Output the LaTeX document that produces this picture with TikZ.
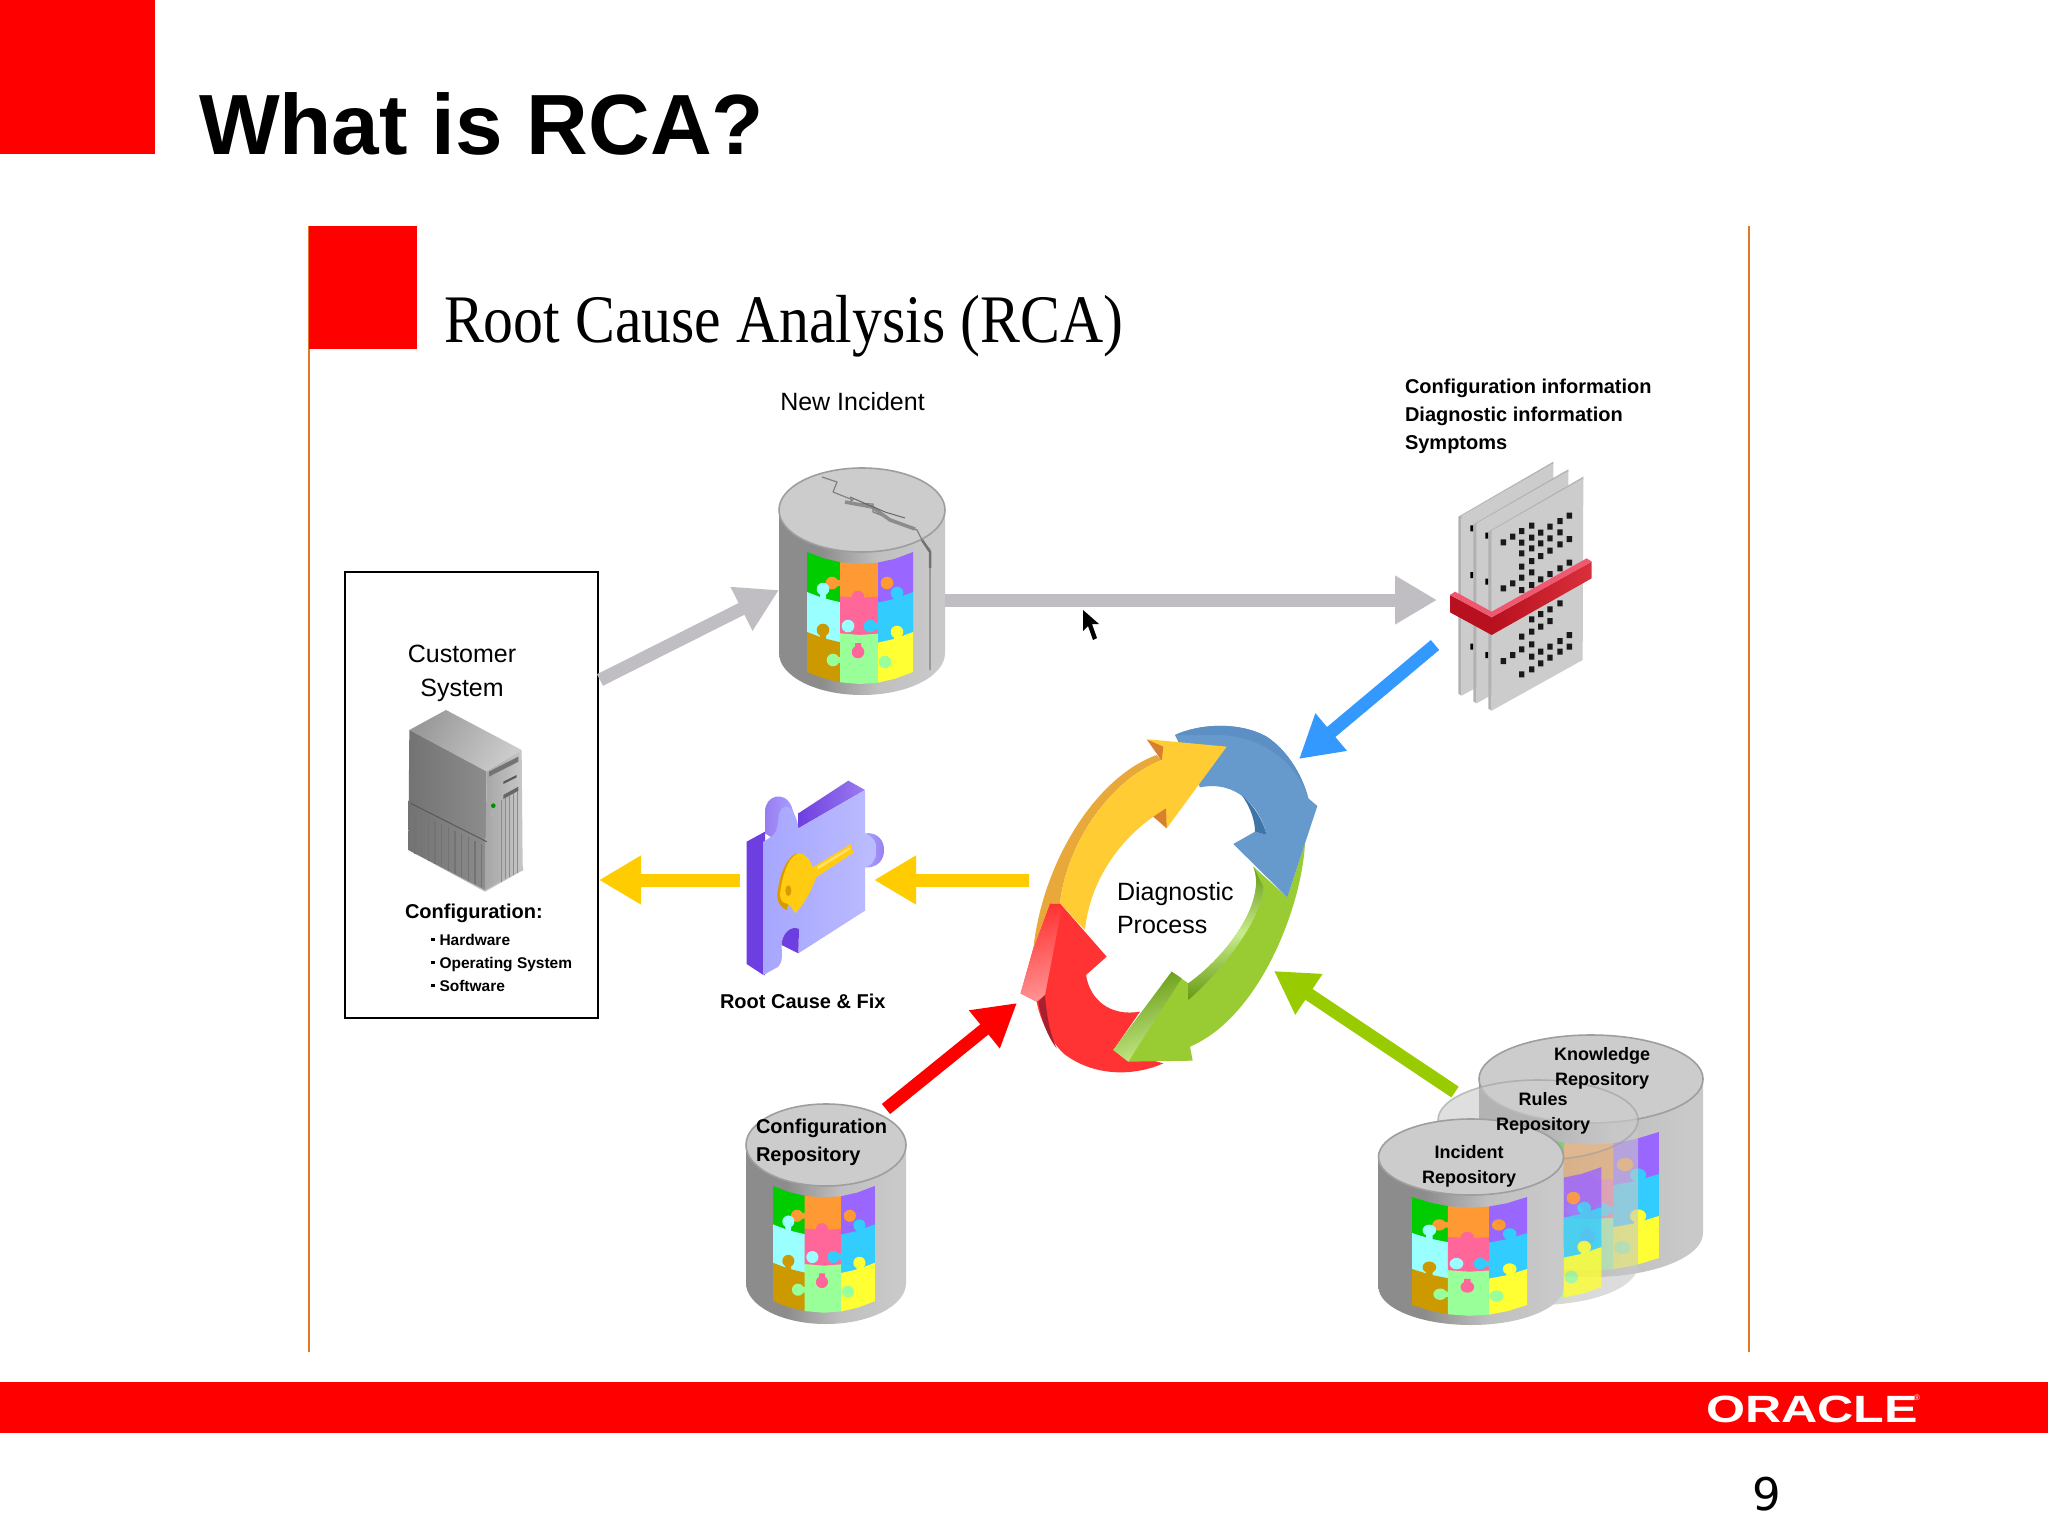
\documentclass[tikz,border=0pt]{standalone}
\usepackage{fontspec}
\usepackage{graphicx}
\setmainfont{Liberation Sans}
\newfontfamily\serifttl{Liberation Serif}
\newfontfamily\pagefont{DejaVu Sans}
\usetikzlibrary{arrows.meta}
\definecolor{oraclered}{HTML}{FF0000}
\definecolor{rule}{HTML}{E07828}
\definecolor{arrgray}{HTML}{C0BEC2}
\definecolor{arrblue}{HTML}{3399FF}
\definecolor{arryel}{HTML}{FFCC00}
\definecolor{arrgreen}{HTML}{99CC00}
\definecolor{pzgreen}{HTML}{00CC00}
\definecolor{pzcyan}{HTML}{99FFFF}
\definecolor{pzgold}{HTML}{CC9900}
\definecolor{pzorange}{HTML}{FF9933}
\definecolor{pzpink}{HTML}{FF6699}
\definecolor{pzlgreen}{HTML}{99FF99}
\definecolor{pzpurple}{HTML}{9966FF}
\definecolor{pzblue}{HTML}{33CCFF}
\definecolor{pzyellow}{HTML}{FFFF33}
\definecolor{ringblue}{HTML}{6699CC}
\definecolor{ringbluedk}{HTML}{3F74A8}
\definecolor{ringblueup}{HTML}{5C8FC4}
\definecolor{ringgreen}{HTML}{99CC33}
\definecolor{ringgreenlt}{HTML}{C8EC8C}
\definecolor{ringgreendk}{HTML}{669911}
\definecolor{ringyel}{HTML}{FFCC33}
\definecolor{ringyeldk}{HTML}{E8A83A}
\definecolor{ringbarb}{HTML}{D98030}
\definecolor{ringred}{HTML}{FF3333}
\definecolor{ringredlt}{HTML}{FF9090}
\definecolor{ringreddk}{HTML}{A82030}
\definecolor{pieceside}{HTML}{6E3FE0}
\definecolor{pieceside2}{HTML}{9A7CF0}
\definecolor{piecefront}{HTML}{A6A6FF}
\definecolor{piecefront2}{HTML}{BCBCFF}
\definecolor{keyyel}{HTML}{FFCC11}
\definecolor{keydk}{HTML}{D99A00}
\definecolor{bandleft}{HTML}{B8101E}
\definecolor{bandright}{HTML}{D8303C}
\definecolor{bandtop}{HTML}{F05870}
\pgfdeclarehorizontalshading{cylbody}{100bp}{color(0bp)=(black!45);color(25bp)=(black!45);color(42bp)=(black!25);color(60bp)=(black!21);color(75bp)=(black!21)}
\newcommand{\fs}[2]{\fontsize{#1}{#2}\selectfont}
\newcommand{\cylfull}[6]{% cx, top cy, rx, ry, bottom cy, opacity
  \path[shading=cylbody,shade,opacity=#6]
    (#1-#3,#2) -- (#1-#3,#5)
    .. controls (#1-#3,#5+.552*#4) and (#1-.552*#3,#5+#4) .. (#1,#5+#4)
    .. controls (#1+.552*#3,#5+#4) and (#1+#3,#5+.552*#4) .. (#1+#3,#5)
    -- (#1+#3,#2)
    .. controls (#1+#3,#2+.552*#4) and (#1+.552*#3,#2+#4) .. (#1,#2+#4)
    .. controls (#1-.552*#3,#2+#4) and (#1-#3,#2+.552*#4) .. (#1-#3,#2) -- cycle;
  \path[fill=black!20,draw=black!38,line width=1.6pt,opacity=#6] (#1,#2) ellipse [x radius=#3,y radius=#4];
}
\newcommand{\pzA}[3]{\fill[#1] (0,#2) -- (16,#2+6.1) -- (33.5,#2+10.3) -- (33.5,#3+10.3) -- (16,#3+6.1) -- (0,#3) -- cycle;}
\newcommand{\pzB}[3]{\fill[#1] (33,#2+10.3) -- (53,#2+12) -- (71.5,#2+10.6) -- (71.5,#3+10.6) -- (53,#3+12) -- (33,#3+10.3) -- cycle;}
\newcommand{\pzC}[3]{\fill[#1] (71,#2+10.6) -- (88,#2+6.8) -- (106,#2) -- (106,#3) -- (88,#3+6.8) -- (71,#3+10.6) -- cycle;}
\newcommand{\pzk}[5]{\fill[#1] (#2,#3) circle [radius=6.3]; \fill[#1] (#2-3,#3-3) rectangle (#2+#4+3,#3+#5+3);}
\newcommand{\puzzle}[5]{%
  \begin{scope}[shift={(#1,#2)},xscale=#3,yscale=#4,transparency group,opacity=#5]
    \pzA{pzgreen}{0}{41}\pzA{pzcyan}{40}{81}\pzA{pzgold}{80}{120}
    \pzB{pzorange}{0}{35}\pzB{pzpink}{34}{72}\pzB{pzlgreen}{71}{120}
    \pzC{pzpurple}{0}{41}\pzC{pzblue}{40}{81}\pzC{pzyellow}{80}{120}
    \pzk{pzorange}{25}{31}{8}{0}
    \pzk{pzorange}{80}{31}{-8}{0}
    \pzk{pzcyan}{16}{37}{0}{8}
    \pzk{pzpink}{51}{45}{0}{-8}
    \pzk{pzblue}{90}{41}{0}{8}
    \pzk{pzcyan}{41}{74}{-8}{0}
    \pzk{pzblue}{63}{74}{8}{0}
    \pzk{pzgold}{16}{78}{0}{8}
    \pzk{pzyellow}{90}{80}{0}{8}
    \pzk{pzpink}{51}{100}{0}{-12}
    \pzk{pzlgreen}{26}{108}{8}{0}
    \pzk{pzlgreen}{78}{110}{-8}{0}
  \end{scope}}
\tikzset{
  holder/.style={inner sep=0pt,outer sep=0pt},
  flow/.style={line width=13pt,-{Triangle[length=42pt,width=46pt]}},
  lab/.style={inner sep=0pt,outer sep=0pt,anchor=base,text=black,align=center},
  labl/.style={inner sep=0pt,outer sep=0pt,anchor=base west,text=black,align=left},
}
\begin{document}
\begin{tikzpicture}[x=1pt,y=-1pt]
\useasboundingbox (0,0) rectangle (2048,1536);
\fill[white] (0,0) rectangle (2048,1536);
% slide frame
\fill[oraclered] (0,0) rectangle (155,154);
\node[labl,font=\fs{85.5}{86}\bfseries] (title) at (199,154) {What is RCA?};
\fill[oraclered] (0,1382) rectangle (2048,1433);
\node[labl,text=white,font=\fs{38}{38}\bfseries] (oracle) at (1706,1422) {\scalebox{1.32}[1]{ORACLE}};
\node[inner sep=0pt,text=white,font=\fs{8}{8}] (regmark) at (1917,1398) {®};
\node[lab,font=\pagefont\fs{45}{45}] (pagenum) at (1767,1510) {9};
% inner slide
\draw[rule,line width=2.4pt] (309,226) -- (309,1352);
\draw[rule,line width=2.4pt] (1749,226) -- (1749,1352);
\fill[oraclered] (309,226) rectangle (417,349);
\node[labl,font=\serifttl\fs{68}{68}] (subtitle) at (444,342) {\scalebox{.879}[1]{Root Cause Analysis (RCA)}};
% holders
\node[holder,draw=black,line width=1.8pt,minimum width=253pt,minimum height=446pt] (cust) at (471.5,795) {};
\node[holder,minimum width=166pt,minimum height=227pt] (newinc) at (862,581.5) {};
\node[holder,minimum width=142pt,minimum height=248pt] (docs) at (1521,586) {};
\node[holder,minimum width=296pt,minimum height=349pt] (ring) at (1169,899.5) {};
\node[holder,minimum width=138pt,minimum height=195pt] (fixpiece) at (816,877) {};
\node[holder,minimum width=160pt,minimum height=220pt] (cfgrepo) at (826,1214) {};
\node[holder,minimum width=185pt,minimum height=205pt] (increpo) at (1470.5,1222.5) {};
% new incident cylinder
\cylfull{862}{510}{83}{42}{653}{1}
\puzzle{807}{552}{1}{1}{1}
\draw[black!50,line width=1.2pt,line join=round] (822,477) -- (837,482) -- (833,492) -- (853,500) -- (847,503) -- (873,504) -- (873,512) -- (893,520) -- (917,530) -- (922,540) -- (930,550) -- (930,670);
\draw[black!45,line width=3.5pt] (845,502) -- (872,507) -- (890,520) -- (915,529);
\draw[black!60,line width=1pt] (850,497) -- (885,512) -- (905,518);
\draw[black!55,line width=2.5pt] (922,540) -- (930,552) -- (930,568);
% server
\begin{scope}[shift={(340,560)},scale=1/3]
  \fill[black!25] (205,870) -- (435,995) -- (550,930) -- (548,915) -- (435,985) -- cycle;
  \shade[left color=black!40,right color=black!20,shading angle=60] (208,510) -- (318,450) -- (545,570) -- (440,635) -- cycle;
  \shade[left color=black!55,right color=black!45] (208,510) -- (440,635) -- (435,990) -- (205,870) -- cycle;
  \shade[left color=black!35,right color=black!22] (440,635) -- (545,570) -- (548,925) -- (435,990) -- cycle;
  \draw[black!65,line width=1pt] (212,730) -- (440,845);
  \foreach \vx in {225,245,...,425} {\draw[black!55,line width=1.2pt] (\vx,{745+(\vx-212)*.5}) -- (\vx,{875+(\vx-212)*.5});}
  \foreach \vx in {485,497,...,540} {\draw[black!45,line width=1pt] (\vx,{720-(\vx-485)*.55}) -- (\vx,{965-(\vx-485)*.55});}
  \fill[black!55] (447,635) -- (535,590) -- (535,605) -- (447,650) -- cycle;
  \fill[black!65] (490,665) -- (530,645) -- (530,652) -- (490,672) -- cycle;
  \fill[black!60] (490,705) -- (535,680) -- (535,692) -- (490,717) -- cycle;
  \fill[pzgreen!70!black] (460,737) circle [radius=7];
  \fill[black!30] (458,763) circle [radius=6];
\end{scope}
% document stack
\begin{scope}[shift={(1380,360)},scale=1/3]
  \foreach \dx/\dy in {-90/-45,-45/-22,0/0} {
    \begin{scope}[shift={(\dx,\dy)}]
      \fill[black!30] (325,515) -- (610,350) -- (610,358) -- (335,520) -- (335,1052) -- (325,1046) -- cycle;
      \fill[black!20] (335,512) -- (610,355) -- (608,900) -- (335,1052) -- cycle;
    \end{scope}}
  \fill[black] foreach \px/\py in {275/505,275/645,275/860,320/527,320/665,320/885} {(\px-4,\py-9) rectangle (\px+4,\py+9)};
  \fill[black!90] foreach \px/\py in {370/547,398/530,425/513,425/548,425/580,425/620,455/497,455/533,455/565,455/603,482/518,482/550,482/588,510/500,510/535,510/572,540/483,540/517,540/553,568/467,568/537,370/685,398/670,425/653,425/690,455/637,455/675,482/658,510/642,540/625,568/608,510/748,510/783,540/730,482/762,482/800,455/778,455/815,425/830,425/868,455/853,455/890,455/928,370/903,398/885,482/875,482/910,510/860,510/893,540/843,540/875,568/825,568/860,425/943} {(\px-8,\py-9) rectangle (\px+8,\py+9)};
  \fill[bandleft] (210,705) -- (335,772) -- (335,825) -- (210,757) -- cycle;
  \shade[left color=bandleft,right color=bandright] (335,772) -- (635,605) -- (635,655) -- (335,825) -- cycle;
  \fill[bandtop] (210,705) -- (225,695) -- (335,755) -- (620,595) -- (635,605) -- (335,772) -- cycle;
\end{scope}
% diagnostic ring
\begin{scope}[shift={(1000,700)},scale=1/3]
  % red
  \fill[ringred] (180,610) -- (320,770) -- (258,825) .. controls (270,900) and (330,950) .. (420,935) -- (340,1050) -- (490,1090) .. controls (400,1130) and (280,1130) .. (190,1060) .. controls (150,1020) and (120,960) .. (110,905) -- (62,880) -- (100,745) -- (150,610) -- cycle;
  \shade[left color=ringred,right color=ringredlt,shading angle=15] (62,880) -- (100,745) -- (150,610) -- (185,625) -- (135,885) -- (110,905) -- cycle;
  \fill[ringreddk] (115,905) .. controls (125,970) and (150,1020) .. (170,1045) .. controls (150,1000) and (140,950) .. (135,885) -- cycle;
  % green
  \fill[ringgreen] (760,500) -- (862,592) -- (915,430) .. controls (905,620) and (780,950) .. (570,1040) -- (578,1082) -- (385,1085) -- (340,1050) -- (515,815) -- (565,850) .. controls (690,760) and (800,600) .. (760,500) -- cycle;
  \shade[top color=ringgreendk,bottom color=ringgreendk,middle color=ringgreenlt] (565,850) .. controls (690,760) and (800,600) .. (760,500) -- (790,560) .. controls (790,640) and (690,790) .. (565,900) -- cycle;
  \shade[left color=ringgreendk,right color=ringgreenlt,shading angle=20] (340,1050) -- (515,815) -- (545,835) -- (410,1045) -- (385,1085) -- cycle;
  % blue
  \fill[ringblue] (525,105) .. controls (600,70) and (720,65) .. (800,110) .. controls (860,150) and (905,220) .. (925,295) -- (952,318) -- (915,430) -- (862,592) -- (700,432) -- (765,395) -- (800,405) .. controls (780,320) and (710,240) .. (600,262) -- cycle;
  \fill[ringbluedk] (725,285) .. controls (765,320) and (790,365) .. (800,405) -- (765,395) .. controls (765,360) and (750,320) .. (725,285) -- cycle;
  \fill[ringblueup] (525,105) .. controls (600,70) and (720,65) .. (800,110) .. controls (860,150) and (905,220) .. (925,295) .. controls (890,190) and (790,105) .. (650,105) -- cycle;
  % yellow
  \fill[ringyeldk] (100,745) .. controls (130,480) and (290,230) .. (470,165) -- (485,180) .. controls (330,240) and (200,430) .. (180,610) -- (150,610) -- cycle;
  \fill[ringyel] (180,610) .. controls (200,430) and (330,240) .. (485,180) -- (445,118) -- (680,140) -- (500,385) -- (460,350) .. controls (360,420) and (270,540) .. (255,690) -- cycle;
  \fill[ringbarb] (440,118) -- (490,140) -- (485,182) -- cycle;
  \fill[ringbarb] (460,350) -- (498,325) -- (500,385) -- cycle;
\end{scope}
% root cause piece
\begin{scope}[shift={(720,770)},scale=1/3]
  \shade[left color=pieceside,right color=pieceside2] (235,175) -- (235,130) -- (385,32) -- (435,60) -- cycle;
  \shade[left color=pieceside2,right color=piecefront] (135,190) -- (135,125) .. controls (135,75) and (195,60) .. (215,110) -- (235,175) -- (175,215) -- cycle;
  \shade[left color=piecefront,right color=pieceside2] (435,190) .. controls (470,185) and (495,210) .. (492,245) .. controls (490,280) and (460,295) .. (435,292) -- cycle;
  \fill[pieceside] (80,215) -- (135,185) -- (135,615) -- (130,615) -- (80,582) -- cycle;
  \shade[left color=piecefront,right color=piecefront2] (130,215) .. controls (165,195) and (170,190) .. (175,150) .. controls (175,110) and (200,100) .. (215,120) .. controls (230,140) and (235,165) .. (235,175) -- (435,60) -- (435,190) .. controls (450,195) and (470,210) .. (470,240) .. controls (470,270) and (450,290) .. (435,292) -- (435,422) -- (235,550) -- (237,485) .. controls (215,465) and (185,490) .. (185,525) .. controls (185,560) and (190,570) .. (175,590) -- (130,615) -- cycle;
  \fill[pieceside] (237,477) .. controls (215,465) and (185,490) .. (185,525) -- (235,550) -- cycle;
  % key
  \fill[keydk] (172,372) .. controls (178,320) and (195,268) .. (228,250) -- (240,262) -- (200,420) .. controls (180,410) and (170,395) .. (172,372) -- cycle;
  \fill[keyyel] (180,372) .. controls (185,330) and (200,262) .. (235,250) .. controls (258,250) and (272,272) .. (278,292) -- (392,222) -- (400,248) -- (288,322) .. controls (275,360) and (252,405) .. (225,430) .. controls (215,410) and (205,400) .. (192,398) .. controls (185,395) and (180,385) .. (180,372) -- cycle;
  \fill[keydk] (205,362) ellipse [x radius=9,y radius=16];
  \fill[keyyel!60!white] (292,290) -- (388,232) -- (390,238) -- (294,298) -- cycle;
\end{scope}
% repository cylinders
\cylfull{826}{1145}{80}{41}{1283}{1}
\puzzle{773}{1186}{.96}{.96}{1}
\cylfull{1591}{1079}{112}{44}{1233}{1}
\puzzle{1521}{1132}{1.3}{1.05}{1}
\cylfull{1538}{1120}{100}{40}{1265}{.62}
\puzzle{1487}{1167}{1.08}{1}{.8}
\cylfull{1471}{1157}{92.5}{38}{1287}{1}
\puzzle{1412}{1197}{1.085}{.9}{1}
% connectors
\draw[flow,arrgray] ([shift={(2,-115)}]cust.east) -- ([shift={(0,8.5)}]newinc.west);
\draw[flow,arrgray] ([shift={(0,18.5)}]newinc.east) -- ([shift={(-13,14)}]docs.west);
\draw[flow,arrblue] ([shift={(-15,59)}]docs.west) -- ([shift={(-18,34)}]ring.north east);
\draw[flow,arryel] ([shift={(8,-19.5)}]ring.west) -- ([shift={(-11,3)}]fixpiece.east);
\draw[flow,arryel] ([shift={(-7,3)}]fixpiece.west) -- ([shift={(1,85)}]cust.east);
\draw[flow,red] ([shift={(-20,5)}]cfgrepo.north east) -- ([shift={(-4,-71)}]ring.south west);
\draw[flow,arrgreen] ([shift={(-15.5,-28)}]increpo.north) -- ([shift={(-43,-103)}]ring.south east);
% pointer
\fill[black] (1083,610) -- (1083,631) -- (1088,626) -- (1093,640) -- (1097,638) -- (1092,624) -- (1099,624) -- cycle;
% labels (multi-line nodes are placed by their last baseline)
\node[lab,font=\fs{25}{25}] (lnew) at (852.5,410) {New Incident};
\node[labl,font=\fs{20}{28}\bfseries] (linfo) at (1405,449) {Configuration information\\Diagnostic information\\Symptoms};
\node[lab,font=\fs{25}{34}] (lcust) at (462,696) {Customer\\System};
\node[labl,font=\fs{20}{20}\bfseries] (lconf) at (405,918) {Configuration:};
\node[labl,font=\fs{15.5}{23}\bfseries] (lhw) at (431,991) {\rule[4pt]{3.5pt}{3.5pt}\hspace{5pt}Hardware\\\rule[4pt]{3.5pt}{3.5pt}\hspace{5pt}Operating System\\\rule[4pt]{3.5pt}{3.5pt}\hspace{5pt}Software};
\node[labl,font=\fs{20}{20}\bfseries] (lroot) at (720,1008) {Root Cause \& Fix};
\node[labl,font=\fs{25}{33}] (ldiag) at (1117,933) {Diagnostic\\Process};
\node[labl,font=\fs{20}{28}\bfseries] (lcfg) at (756,1161) {Configuration\\Repository};
\node[lab,font=\fs{18}{25}\bfseries] (lknow) at (1602,1085) {Knowledge\\Repository};
\node[lab,font=\fs{18}{25}\bfseries] (lrules) at (1543,1130) {Rules\\Repository};
\node[lab,font=\fs{18}{25}\bfseries] (linc) at (1469,1183) {Incident\\Repository};
\end{tikzpicture}
\end{document}
